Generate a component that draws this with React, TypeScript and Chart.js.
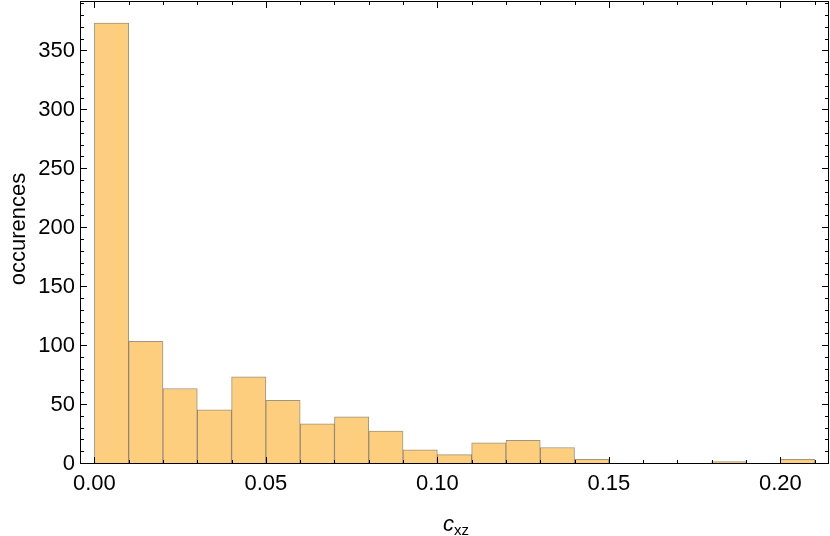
import React, { useEffect, useRef } from "react";
import { Chart, registerables } from "chart.js";

Chart.register(...registerables);

const binStarts = [0, 0.01, 0.02, 0.03, 0.04, 0.05, 0.06, 0.07, 0.08, 0.09, 0.1, 0.11, 0.12, 0.13, 0.14, 0.15, 0.16, 0.17, 0.18, 0.19, 0.2];
const counts = [374, 104, 64, 46, 74, 54, 34, 40, 28, 12, 8, 18, 20, 14, 4, 0, 0, 0, 2, 0, 4];
const binWidth = 0.01;
const xTickLabels = ["0.00", "0.05", "0.10", "0.15", "0.20"];
const yTickValues = [0, 50, 100, 150, 200, 250, 300, 350];
const yTitle = "occurences";

const FONT = "'Liberation Sans', Arial, sans-serif";

const frameTicks = {
  id: "frameTicks",
  afterDraw(chart: any) {
    const { ctx, chartArea: a, scales } = chart;
    const xs = scales.x;
    const ys = scales.y;
    ctx.save();
    ctx.strokeStyle = "#000";
    ctx.lineWidth = 1;
    ctx.strokeRect(a.left + 0.5, a.top + 0.5, a.right - a.left - 1, a.bottom - a.top - 1);
    ctx.beginPath();
    for (let i = 0; i <= 21; i++) {
      const v = i * 0.01;
      const px = Math.round(xs.getPixelForValue(v)) + 0.5;
      const major = i % 5 === 0;
      const len = major ? 7 : 4;
      ctx.moveTo(px, a.bottom);
      ctx.lineTo(px, a.bottom - len);
      ctx.moveTo(px, a.top);
      ctx.lineTo(px, a.top + len);
    }
    for (let v = 0; v <= 390; v += 10) {
      const py = Math.round(ys.getPixelForValue(v)) - 0.5;
      const major = v % 50 === 0;
      const len = major ? 7 : 4;
      ctx.moveTo(a.left, py);
      ctx.lineTo(a.left + len, py);
      ctx.moveTo(a.right, py);
      ctx.lineTo(a.right - len, py);
    }
    ctx.stroke();
    // x axis title c_xz
    ctx.fillStyle = "#000";
    ctx.textBaseline = "alphabetic";
    ctx.textAlign = "left";
    ctx.font = `italic 22px ${FONT}`;
    const cx = 443;
    const by = 531;
    ctx.fillText("c", cx, by);
    const cw = ctx.measureText("c").width;
    ctx.font = `15px ${FONT}`;
    ctx.fillText("xz", cx + cw, by + 4);
    // y axis title
    ctx.save();
    ctx.translate(25, 229);
    ctx.rotate(-Math.PI / 2);
    ctx.textAlign = "center";
    ctx.font = `22px ${FONT}`;
    ctx.fillText(yTitle, 0, 0);
    ctx.restore();
    ctx.restore();
  },
};

export default function App() {
  const ref = useRef<HTMLCanvasElement | null>(null);
  useEffect(() => {
    document.body.style.margin = "0";
    const data = binStarts.map((s, i) => ({ x: s + binWidth / 2, y: counts[i] }));
    const chart = new Chart(ref.current as HTMLCanvasElement, {
      type: "bar",
      data: {
        datasets: [
          {
            data,
            backgroundColor: "rgb(252,206,126)",
            borderColor: "rgba(110,90,60,0.65)",
            borderWidth: 1,
            barPercentage: 1,
            categoryPercentage: 1,
            grouped: false,
          } as any,
        ],
      },
      options: {
        animation: false,
        responsive: false,
        devicePixelRatio: 1,
        layout: { padding: { top: 1, right: 1, left: 0, bottom: 0 } },
        plugins: { legend: { display: false }, tooltip: { enabled: false } },
        scales: {
          x: {
            type: "linear",
            min: -0.0042,
            max: 0.2142,
            offset: false,
            grid: { display: false, drawTicks: false },
            border: { display: false },
            afterBuildTicks: (s: any) => {
              s.ticks = xTickLabels.map((l) => ({ value: parseFloat(l) }));
            },
            ticks: {
              color: "#000",
              font: { family: FONT, size: 22 },
              padding: 7,
              maxRotation: 0,
              autoSkip: false,
              callback: (v: any) => Number(v).toFixed(2),
            },
            afterFit: (s: any) => {
              s.height = 72;
              s.paddingLeft = 0;
              s.paddingRight = 0;
            },
          },
          y: {
            type: "linear",
            min: 0,
            max: 392.7,
            grid: { display: false, drawTicks: false },
            border: { display: false },
            afterBuildTicks: (s: any) => {
              s.ticks = yTickValues.map((v) => ({ value: v }));
            },
            ticks: {
              color: "#000",
              font: { family: FONT, size: 22 },
              padding: 5,
              autoSkip: false,
            },
            afterFit: (s: any) => {
              s.width = 80;
              s.paddingTop = 0;
              s.paddingBottom = 0;
            },
          },
        },
      },
      plugins: [frameTicks],
    });
    return () => chart.destroy();
  }, []);
  return (
    <div style={{ position: "absolute", left: 0, top: 0 }}>
      <canvas ref={ref} width={830} height={536} style={{ display: "block", width: 830, height: 536 }} />
    </div>
  );
}
